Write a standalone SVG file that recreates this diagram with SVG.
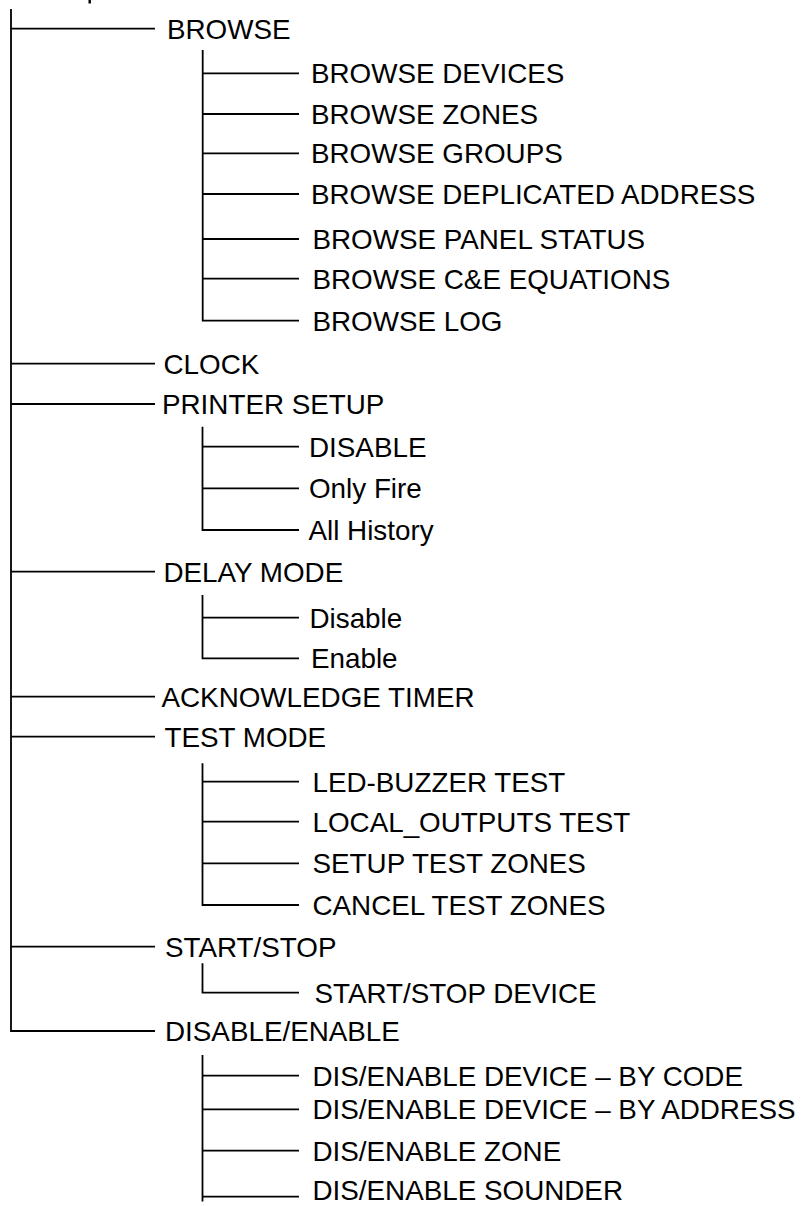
<svg xmlns="http://www.w3.org/2000/svg" width="803" height="1206" viewBox="0 0 803 1206">
<style>
.c{fill:none;stroke:#000;stroke-width:1.8}
text{font-family:"Liberation Sans",Arial,sans-serif;font-size:27.8px;fill:#000}
</style>
<rect width="803" height="1206" fill="#fff"/>
<rect x="88.5" y="0" width="2.4" height="3.5" fill="#000"/>
<g id="connectors">
<path class="c" d="M11,9V1031H155M11,28.7H155M11,363.7H155M11,404H155M11,571.7H155M11,696.7H155M11,736.7H155M11,946.7H155"/>
<path class="c" d="M202.7,50V320.7H299M202.7,73.3H299M202.7,114H299M202.7,153.3H299M202.7,194H299M202.7,239H299M202.7,278.7H299"/>
<path class="c" d="M202.5,426.7V530H299M202.5,446.7H299M202.5,488.3H299"/>
<path class="c" d="M202.5,595V658.3H299M202.5,617.7H299"/>
<path class="c" d="M202.5,763.3V905H299M202.5,781.7H299M202.5,821.7H299M202.5,863.3H299"/>
<path class="c" d="M202.5,963.3V992.7H299"/>
<path class="c" d="M202.5,1055V1201.5M202.5,1075.7H299M202.5,1109.3H299M202.5,1150.7H299M202.5,1196.7H299"/>
</g>
<g id="browse"><text x="167" y="38.5">BROWSE</text></g>
<g id="browse-devices"><text x="311" y="83.1">BROWSE DEVICES</text></g>
<g id="browse-zones"><text x="311" y="123.8">BROWSE ZONES</text></g>
<g id="browse-groups"><text x="311" y="163.1">BROWSE GROUPS</text></g>
<g id="browse-deplicated"><text x="311" y="203.8">BROWSE DEPLICATED ADDRESS</text></g>
<g id="browse-panel"><text x="312.5" y="248.8">BROWSE PANEL STATUS</text></g>
<g id="browse-ce"><text x="312.5" y="288.5">BROWSE C&amp;E EQUATIONS</text></g>
<g id="browse-log"><text x="312.5" y="330.5">BROWSE LOG</text></g>
<g id="clock"><text x="163.5" y="373.5">CLOCK</text></g>
<g id="printer"><text x="162" y="413.8">PRINTER SETUP</text></g>
<g id="printer-disable"><text x="309" y="456.5">DISABLE</text></g>
<g id="printer-fire"><text x="309" y="498.1">Only Fire</text></g>
<g id="printer-history"><text x="308.5" y="539.8">All History</text></g>
<g id="delay"><text x="163.5" y="581.5">DELAY MODE</text></g>
<g id="delay-disable"><text x="309.5" y="627.5">Disable</text></g>
<g id="delay-enable"><text x="311" y="668.1">Enable</text></g>
<g id="ack"><text x="161.5" y="706.5">ACKNOWLEDGE TIMER</text></g>
<g id="test"><text x="164.5" y="746.5">TEST MODE</text></g>
<g id="test-led"><text x="312.5" y="791.5">LED-BUZZER TEST</text></g>
<g id="test-local"><text x="312.5" y="831.5">LOCAL_OUTPUTS TEST</text></g>
<g id="test-setup"><text x="312.5" y="873.1">SETUP TEST ZONES</text></g>
<g id="test-cancel"><text x="312.5" y="914.8">CANCEL TEST ZONES</text></g>
<g id="startstop"><text x="165" y="956.5">START/STOP</text></g>
<g id="startstop-device"><text x="314.5" y="1002.5">START/STOP DEVICE</text></g>
<g id="disen"><text x="165" y="1040.8">DISABLE/ENABLE</text></g>
<g id="disen-code"><text x="312.5" y="1085.5">DIS/ENABLE DEVICE – BY CODE</text></g>
<g id="disen-address"><text x="312.5" y="1119.1">DIS/ENABLE DEVICE – BY ADDRESS</text></g>
<g id="disen-zone"><text x="312.5" y="1160.5">DIS/ENABLE ZONE</text></g>
<g id="disen-sounder"><text x="312.5" y="1199.5">DIS/ENABLE SOUNDER</text></g>
</svg>
